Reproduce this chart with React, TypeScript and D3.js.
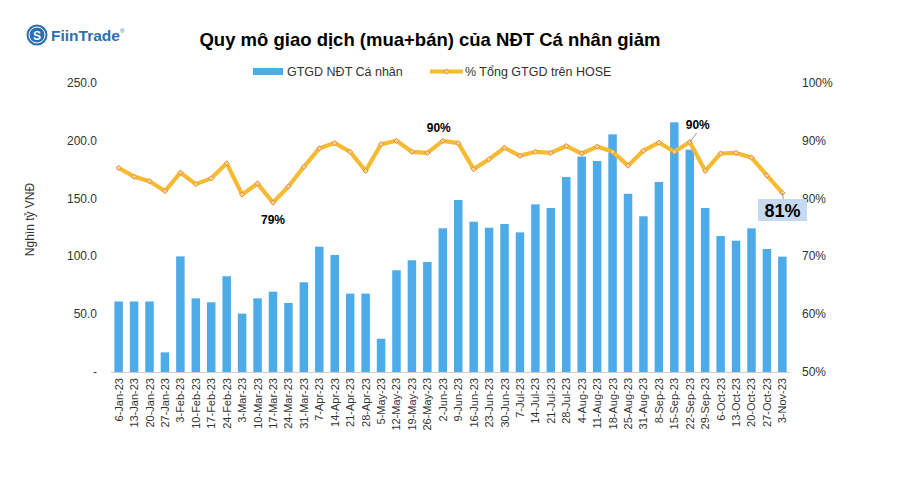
import * as d3 from "d3";

const weeks = [
  "6-Jan-23", "13-Jan-23", "20-Jan-23", "27-Jan-23", "3-Feb-23", "10-Feb-23", "17-Feb-23", "24-Feb-23",
  "3-Mar-23", "10-Mar-23", "17-Mar-23", "24-Mar-23", "31-Mar-23", "7-Apr-23", "14-Apr-23", "21-Apr-23",
  "28-Apr-23", "5-May-23", "12-May-23", "19-May-23", "26-May-23", "2-Jun-23", "9-Jun-23", "16-Jun-23",
  "23-Jun-23", "30-Jun-23", "7-Jul-23", "14-Jul-23", "21-Jul-23", "28-Jul-23", "4-Aug-23", "11-Aug-23",
  "18-Aug-23", "25-Aug-23", "31-Aug-23", "8-Sep-23", "15-Sep-23", "22-Sep-23", "29-Sep-23", "6-Oct-23",
  "13-Oct-23", "20-Oct-23", "27-Oct-23", "3-Nov-23",
];

// Nghìn tỷ VNĐ
const gtgd = [
  61, 61, 61, 17, 100, 63.7, 60.3, 82.8, 50.5, 63.7, 69.5, 59.7, 77.6, 108.4, 101.2, 67.8,
  67.8, 28.8, 88, 96.6, 95.2, 124.3, 148.8, 130, 124.8, 128, 120.8, 145, 141.9, 168.7, 186.3, 182.5,
  205.6, 154.2, 134.7, 164.4, 216, 192.3, 141.9, 117.6, 113.6, 124.3, 106.4, 99.8,
];

// % of total HOSE value
const share = [
  85.3, 83.8, 83.0, 81.3, 84.5, 82.5, 83.5, 86.1, 80.7, 82.6, 79.3, 82.1, 85.5, 88.7, 89.6, 88.1,
  84.8, 89.4, 90.0, 88.1, 87.9, 90.0, 89.6, 85.1, 86.8, 88.8, 87.4, 88.1, 87.9, 89.1, 87.8, 89.0,
  88.1, 85.7, 88.3, 89.7, 88.1, 89.8, 84.8, 87.8, 87.9, 87.1, 84.0, 81.0,
];

const leftTicks = [0, 50, 100, 150, 200, 250];
const rightTicks = [50, 60, 70, 80, 90, 100];

const BLUE = "#4eabe9";
const GOLD = "#f6bb33";
const FONT = "Liberation Sans, Arial, sans-serif";

export default function App() {
  const width = 900;
  const height = 480;
  const left = 111;
  const right = 790;
  const top = 83;
  const bottom = 372;

  const x = d3.scaleBand<string>().domain(weeks).range([left, right]).paddingInner(0.45).paddingOuter(0.22);
  const yL = d3.scaleLinear().domain([0, 250]).range([bottom, top]);
  const yR = d3.scaleLinear().domain([50, 100]).range([bottom, top]);
  const cx = (i: number) => x(weeks[i])! + x.bandwidth() / 2;

  const line = d3
    .line<number>()
    .x((_, i) => cx(i))
    .y((d) => yR(d));

  const diamond = (px: number, py: number, r = 2.6) =>
    `M${px},${py - r}L${px + r},${py}L${px},${py + r}L${px - r},${py}Z`;

  const i79 = 10;
  const i90a = 21;
  const i90b = 37;
  const iLast = weeks.length - 1;

  return (
    <svg width={width} height={height} style={{ position: "absolute", left: 0, top: 0, background: "#fff" }} fontFamily={FONT}>
      {/* logo */}
      <g>
        <circle cx={37} cy={35} r={10.5} fill="#2b6fb3" />
        <circle cx={37} cy={35} r={8} fill="none" stroke="#fff" strokeWidth={1} />
        <text x={37} y={39.5} textAnchor="middle" fontSize={12} fontWeight="bold" fill="#fff">S</text>
        <text x={51} y={41} fontSize={15.5} fontWeight="bold" fill="#2b6fb3">FiinTrade</text>
        <text x={120} y={33} fontSize={6} fill="#2b6fb3">®</text>
      </g>

      <text x={430} y={46} textAnchor="middle" fontSize={18.5} fontWeight="bold" fill="#000">
        Quy mô giao dịch (mua+bán) của NĐT Cá nhân giảm
      </text>

      {/* legend */}
      <rect x={253} y={68} width={30} height={7} fill={BLUE} />
      <text x={287} y={76} fontSize={12.5} fill="#333">GTGD NĐT Cá nhân</text>
      <line x1={430} x2={463} y1={71.5} y2={71.5} stroke={GOLD} strokeWidth={4} />
      <path d={diamond(446.5, 71.5)} fill="#fbd59a" stroke="#e58a3a" strokeWidth={1} />
      <text x={465} y={76} fontSize={12.5} fill="#333">% Tổng  GTGD  trên HOSE</text>

      {/* left axis */}
      {leftTicks.map((t) => (
        <text key={t} x={97} y={yL(t) + 4} textAnchor="end" fontSize={12} fill="#333">
          {t === 0 ? "-" : t.toFixed(1)}
        </text>
      ))}
      <text transform={`translate(34,${(top + bottom) / 2 - 8}) rotate(-90)`} textAnchor="middle" fontSize={12} fill="#333">
        Nghìn tỷ VNĐ
      </text>

      {/* right axis */}
      {rightTicks.map((t) => (
        <text key={t} x={802} y={yR(t) + 4} fontSize={12} fill="#333">
          {t}%
        </text>
      ))}

      {/* bars */}
      {gtgd.map((v, i) => (
        <rect key={weeks[i]} x={x(weeks[i])} y={yL(v)} width={x.bandwidth()} height={yL(0) - yL(v)} fill={BLUE} />
      ))}

      <line x1={left} x2={right} y1={bottom + 0.5} y2={bottom + 0.5} stroke="#d0d0d0" strokeWidth={1} />

      {/* x labels */}
      {weeks.map((w, i) => (
        <text key={w} transform={`translate(${cx(i) + 4},${bottom + 6}) rotate(-90)`} textAnchor="end" fontSize={11} fill="#333">
          {w}
        </text>
      ))}

      {/* share line */}
      <path d={line(share)!} fill="none" stroke={GOLD} strokeWidth={4.2} strokeLinejoin="round" />
      {share.map((v, i) => (
        <path key={i} d={diamond(cx(i), yR(v))} fill="#fbd59a" stroke="#e58a3a" strokeWidth={1} />
      ))}

      {/* annotations */}
      <text x={cx(i79)} y={yR(share[i79]) + 21} textAnchor="middle" fontSize={12} fontWeight="bold" fill="#000">79%</text>
      <text x={cx(i90a) - 4} y={yR(share[i90a]) - 9} textAnchor="middle" fontSize={12} fontWeight="bold" fill="#000">90%</text>

      <line x1={cx(i90b)} y1={yR(share[i90b])} x2={cx(i90b) + 7} y2={yR(share[i90b]) - 9} stroke="#999" strokeWidth={1} />
      <text x={cx(i90b) + 8} y={yR(share[i90b]) - 13} textAnchor="middle" fontSize={12} fontWeight="bold" fill="#000">90%</text>

      <line x1={cx(iLast)} y1={yR(share[iLast])} x2={cx(iLast) + 1} y2={199} stroke="#999" strokeWidth={1} />
      <rect x={758} y={199} width={49} height={22} fill="#c5daf0" />
      <text x={782.5} y={217} textAnchor="middle" fontSize={18} fontWeight="bold" fill="#000">81%</text>
    </svg>
  );
}
